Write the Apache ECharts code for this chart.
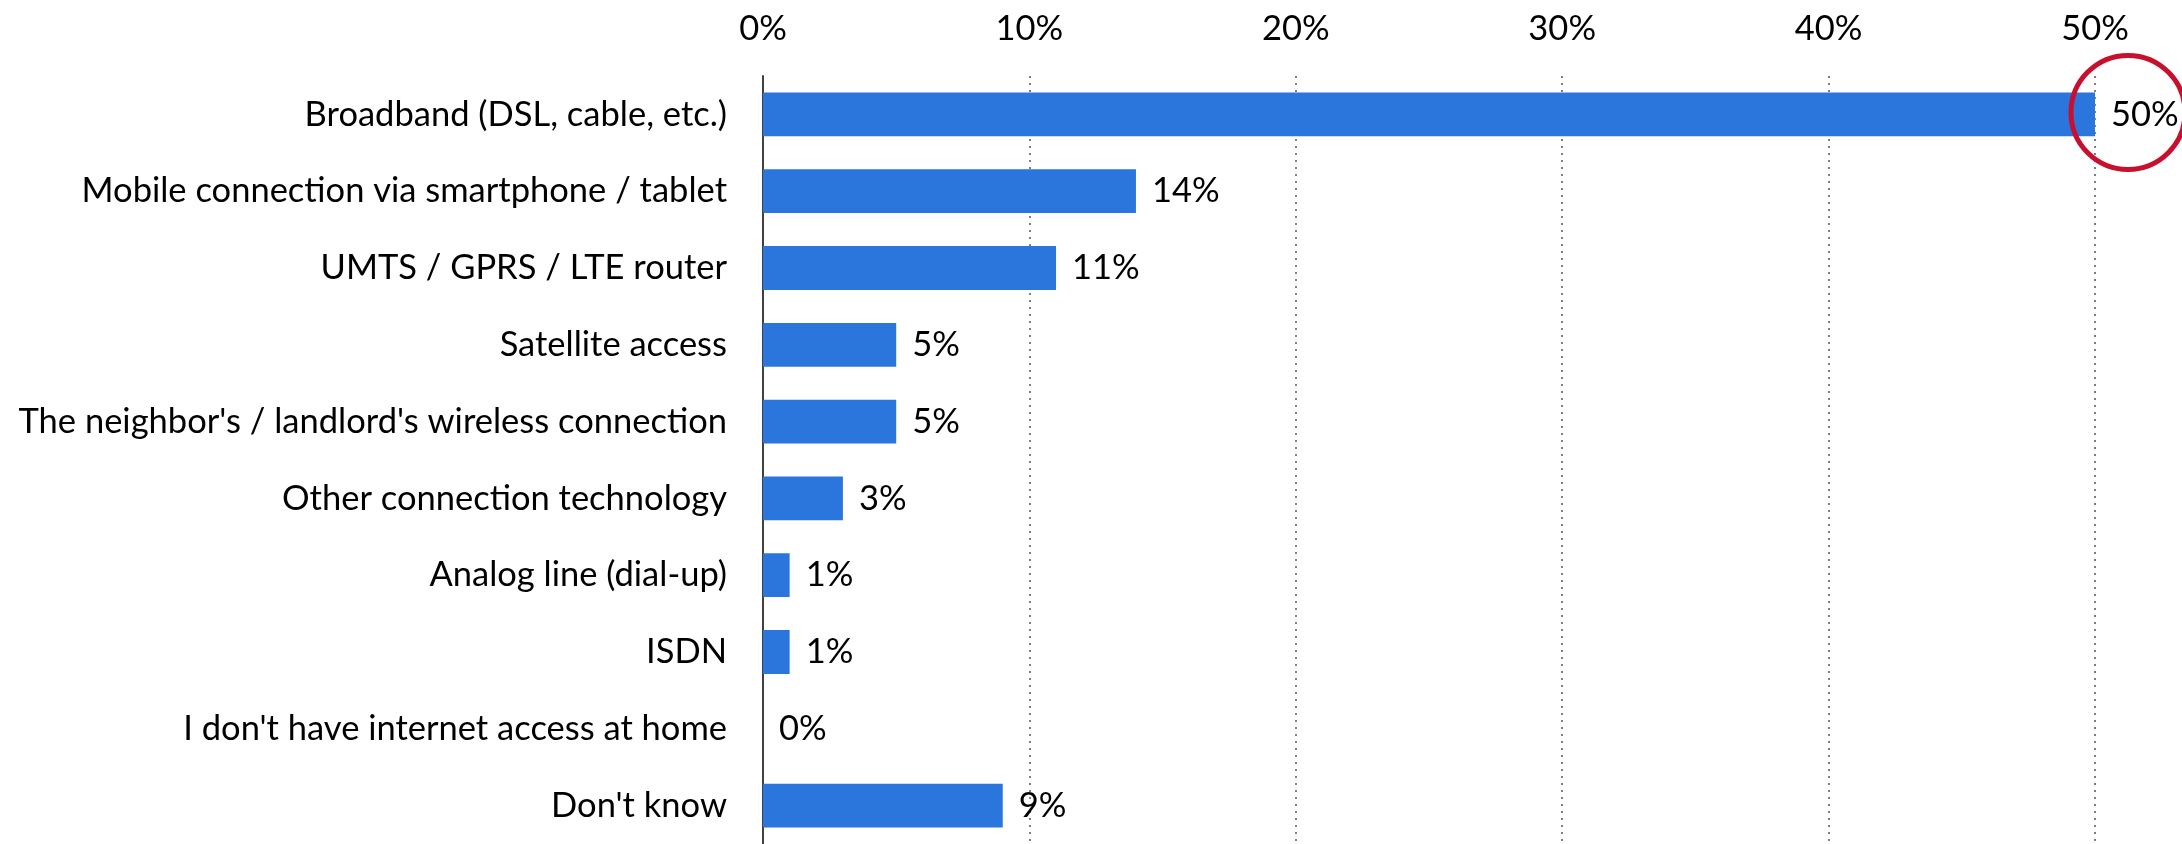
<!DOCTYPE html>
<html>
<head>
<meta charset="utf-8">
<title>Internet access at home</title>
<script src="https://cdn.jsdelivr.net/npm/echarts@6/dist/echarts.min.js"></script>
<style>
  html, body { margin: 0; padding: 0; background: #ffffff; }
  #chart { width: 2182px; height: 844px; }
</style>
</head>
<body>
<div id="chart"></div>
<script>
// Connection types, top to bottom
const categories = [
  "Broadband (DSL, cable, etc.)",
  "Mobile connection via smartphone / tablet",
  "UMTS / GPRS / LTE router",
  "Satellite access",
  "The neighbor's / landlord's wireless connection",
  "Other connection technology",
  "Analog line (dial-up)",
  "ISDN",
  "I don't have internet access at home",
  "Don't know"
];

// Share of respondents, in percent
const shares = [50, 14, 11, 5, 5, 3, 1, 1, 0, 9];

// Percent ticks along the top axis
const tickValues = [0, 10, 20, 30, 40, 50];

// The highlighted answer
const highlightIndex = 0;

const FONT = "Lato";
const FONT_SIZE = 34.5;
const BAR_COLOR = "#2A76DC";
const RING_COLOR = "#C8102E";

const chart = echarts.init(document.getElementById("chart"), null, { renderer: "canvas" });

chart.setOption({
  animation: false,
  backgroundColor: "#ffffff",
  grid: { left: 763, right: 87, top: 76, height: 770, containLabel: false },
  xAxis: {
    type: "value",
    position: "top",
    min: tickValues[0],
    max: tickValues[tickValues.length - 1],
    interval: tickValues[1] - tickValues[0],
    axisLine: { show: false },
    axisTick: { show: false },
    axisLabel: {
      margin: 30,
      formatter: v => v + "%",
      fontFamily: FONT,
      fontSize: FONT_SIZE,
      color: "#000000"
    },
    splitLine: {
      show: true,
      lineStyle: { color: "#555555", width: 1.5, type: [2, 5] }
    }
  },
  yAxis: {
    type: "category",
    inverse: true,
    data: categories,
    axisLine: { show: true, lineStyle: { color: "#404040", width: 2 } },
    axisTick: { show: false },
    axisLabel: {
      margin: 36,
      fontFamily: FONT,
      fontSize: FONT_SIZE,
      color: "#000000"
    }
  },
  series: [{
    type: "bar",
    data: shares,
    barCategoryGap: "43%",
    itemStyle: { color: BAR_COLOR },
    label: {
      show: true,
      position: "right",
      distance: 16,
      formatter: p => p.value + "%",
      fontFamily: FONT,
      fontSize: FONT_SIZE,
      color: "#000000"
    },
    markPoint: {
      silent: true,
      symbol: "circle",
      symbolSize: 114,
      symbolOffset: [33, -2],
      itemStyle: { color: "rgba(0,0,0,0)", borderColor: RING_COLOR, borderWidth: 5 },
      label: { show: false },
      data: [{ coord: [shares[highlightIndex], categories[highlightIndex]] }]
    }
  }]
});
</script>
</body>
</html>
